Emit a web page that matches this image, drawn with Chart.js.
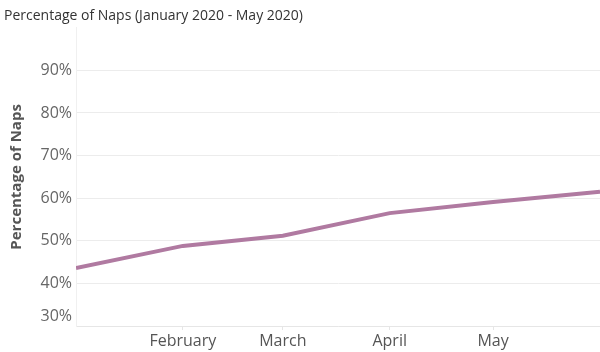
<!DOCTYPE html>
<html>
<head>
<meta charset="utf-8">
<script src="https://cdn.jsdelivr.net/npm/chart.js@4"></script>
<style>
    html, body { margin: 0; padding: 0; background: #fff; }
    #wrap { width: 600px; height: 352px; }
</style>
</head>
<body>
<div id="wrap"><canvas id="chart" width="600" height="352"></canvas></div>
<script>
// days since Jan 1 2020 for each monthly point
const dayOffsets = [0, 31, 60, 91, 121, 152];
const napShare = [43.6, 48.8, 51.2, 56.5, 59.1, 61.5];

const monthTicks = [31, 60, 91, 121];
const monthLabels = ["February", "March", "April", "May"];

const yTicks = [30, 40, 50, 60, 70, 80, 90];

const FONT = "'Open Sans', sans-serif";

// Tableau nudges the bottom tick label up so it sits inside the axis
const bottomLabel = {
    id: "bottomLabel",
    afterDraw(chart) {
        const y = chart.scales.y;
        const ctx = chart.ctx;
        ctx.save();
        ctx.font = "16px " + FONT;
        ctx.fillStyle = "#666";
        ctx.textAlign = "right";
        ctx.textBaseline = "middle";
        ctx.fillText(yTicks[0] + "%", y.right - 4, y.getPixelForValue(yTicks[0]) - 9.5);
        ctx.restore();
    }
};

const ctx = document.getElementById("chart");

const graph = new Chart(ctx, {
    type: "line",
    data: {
        datasets: [
            {
                label: "Percentage of Naps",
                data: dayOffsets.map((d, i) => ({ x: d, y: napShare[i] })),
                borderColor: "#b07aa1",
                borderWidth: 4,
                pointRadius: 0,
                tension: 0
            }
        ]
    },
    options: {
        responsive: false,
        animation: false,
        layout: {
            padding: { left: 4, right: 0, top: 0, bottom: 0 }
        },
        scales: {
            x: {
                type: "linear",
                min: dayOffsets[0],
                max: dayOffsets[dayOffsets.length - 1],
                afterBuildTicks: function(scale) {
                    scale.ticks = monthTicks.map(v => ({ value: v }));
                },
                afterFit: function(scale) {
                    scale.height = 26;
                },
                grid: {
                    drawOnChartArea: false,
                    tickLength: 4,
                    color: "#e6e6e6"
                },
                border: {
                    color: "#e6e6e6"
                },
                ticks: {
                    padding: 2,
                    maxRotation: 0,
                    autoSkip: false,
                    color: "#555",
                    font: { family: FONT, size: 16 },
                    callback: function(value) {
                        const i = monthTicks.indexOf(value);
                        return i >= 0 ? monthLabels[i] : "";
                    }
                }
            },
            y: {
                min: 30,
                max: 100,
                afterBuildTicks: function(scale) {
                    scale.ticks = yTicks.map(v => ({ value: v }));
                },
                afterFit: function(scale) {
                    scale.width = 72;
                },
                grid: {
                    drawTicks: false,
                    color: "#ececec"
                },
                border: {
                    color: "#f0f0f0"
                },
                title: {
                    display: true,
                    text: "Percentage of Naps",
                    color: "#555",
                    padding: { top: 4, bottom: 0 },
                    font: { family: FONT, size: 15, weight: "bold" }
                },
                ticks: {
                    padding: 4,
                    color: "#666",
                    font: { family: FONT, size: 16 },
                    callback: function(value) {
                        return value === yTicks[0] ? "" : value + "%";
                    }
                }
            }
        },
        plugins: {
            title: {
                display: true,
                text: "Percentage of Naps (January 2020 - May 2020)",
                align: "start",
                color: "#333",
                padding: { top: 8, bottom: 3 },
                font: { family: FONT, size: 14, weight: "normal" }
            },
            legend: {
                display: false
            },
            tooltip: {
                enabled: false
            }
        }
    },
    plugins: [bottomLabel]
});
</script>
</body>
</html>
